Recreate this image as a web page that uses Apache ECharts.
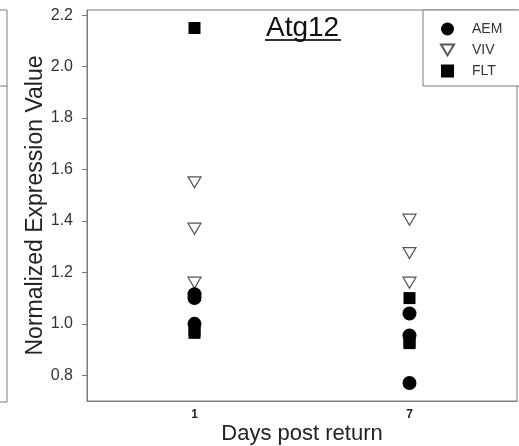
<!DOCTYPE html>
<html>
<head>
<meta charset="utf-8">
<script src="https://cdn.jsdelivr.net/npm/echarts@6/dist/echarts.min.js"></script>
<style>html,body{margin:0;padding:0;background:#fff}#c{width:519px;height:446px}</style>
</head>
<body>
<div id="c"></div>
<script>
var categories = ['1', '7'];
var yTicks = [0.8, 1.0, 1.2, 1.4, 1.6, 1.8, 2.0, 2.2];
var aemDay1 = [1.115, 1.10, 1.00];
var aemDay7 = [1.04, 0.955, 0.77];
var vivDay1 = [1.55, 1.37, 1.16];
var vivDay7 = [1.405, 1.275, 1.16];
var fltDay1 = [2.15, 0.975, 0.965];
var fltDay7 = [1.10, 0.93, 0.925];

function pts(d1, d7) {
  var out = [];
  d1.forEach(function (v) { out.push([categories[0], v]); });
  d7.forEach(function (v) { out.push([categories[1], v]); });
  return out;
}

var FONT = 'Liberation Sans, Arial, sans-serif';
var GRAY = '#7a7a7a';
var chart = echarts.init(document.getElementById('c'), null, {renderer: 'canvas'});
chart.setOption({
  animation: false,
  backgroundColor: '#fff',
  title: {
    text: 'Atg12', left: 261, top: 9,
    textStyle: {fontFamily: FONT, fontSize: 28, fontWeight: 'normal', color: '#111'}
  },
  grid: {left: 87, top: 10, right: 2, bottom: 45, outerBoundsMode: 'none', containLabel: false,
    show: true, borderColor: GRAY, borderWidth: 1, backgroundColor: 'transparent'},
  legend: {
    orient: 'vertical', left: 423, top: 10,
    padding: [12, 40, 8, 17],
    itemWidth: 13, itemHeight: 13, itemGap: 7,
    borderColor: GRAY, borderWidth: 1, backgroundColor: '#fff',
    textStyle: {fontFamily: FONT, fontSize: 14, color: '#333', padding: [0, 0, 0, 13]},
    data: ['AEM', 'VIV', 'FLT']
  },
  xAxis: {
    type: 'category', data: categories, boundaryGap: true,
    name: 'Days post return', nameLocation: 'middle', nameGap: 22, nameMoveOverlap: false,
    nameTextStyle: {fontFamily: FONT, fontSize: 22, color: '#222'},
    axisLine: {lineStyle: {color: GRAY, width: 1}},
    axisTick: {alignWithLabel: true, length: 4, lineStyle: {color: GRAY}},
    axisLabel: {fontFamily: FONT, fontSize: 12, fontWeight: 'bold', color: '#222', margin: 8},
    splitLine: {show: false}
  },
  yAxis: {
    type: 'value', min: 0.7, max: 2.22,
    name: 'Normalized Expression Value', nameLocation: 'middle', nameGap: 40, nameMoveOverlap: false,
    nameTextStyle: {fontFamily: FONT, fontSize: 23, color: '#222'},
    axisLine: {show: true, lineStyle: {color: GRAY, width: 1}},
    axisTick: {show: true, length: 5, customValues: yTicks, lineStyle: {color: GRAY}},
    axisLabel: {fontFamily: FONT, fontSize: 16, color: '#333', margin: 14, customValues: yTicks,
      formatter: function (v) { return v.toFixed(1); }},
    splitLine: {show: false}
  },
  graphic: [
    {type: 'polyline', shape: {points: [[0, 10], [7, 10], [7, 402], [0, 402]]}, style: {stroke: GRAY, fill: null, lineWidth: 1}},
    {type: 'line', shape: {x1: 0, y1: 86, x2: 7, y2: 86}, style: {stroke: GRAY, lineWidth: 1}},
    {type: 'rect', shape: {x: 265, y: 39, width: 76, height: 2}, style: {fill: '#333'}}
  ],
  series: [
    {name: 'AEM', type: 'scatter', symbol: 'circle', symbolSize: 14, z: 3,
      itemStyle: {color: '#000', opacity: 1}, data: pts(aemDay1, aemDay7)},
    {name: 'VIV', type: 'scatter', symbol: 'path://M0,0 L12,0 L6,10 Z', symbolSize: [13, 11], z: 2,
      itemStyle: {color: '#fff', borderColor: '#555', borderWidth: 1.2, opacity: 1}, data: pts(vivDay1, vivDay7)},
    {name: 'FLT', type: 'scatter', symbol: 'rect', symbolSize: 12, z: 4,
      itemStyle: {color: '#000', opacity: 1}, data: pts(fltDay1, fltDay7)}
  ]
});
</script>
</body>
</html>
